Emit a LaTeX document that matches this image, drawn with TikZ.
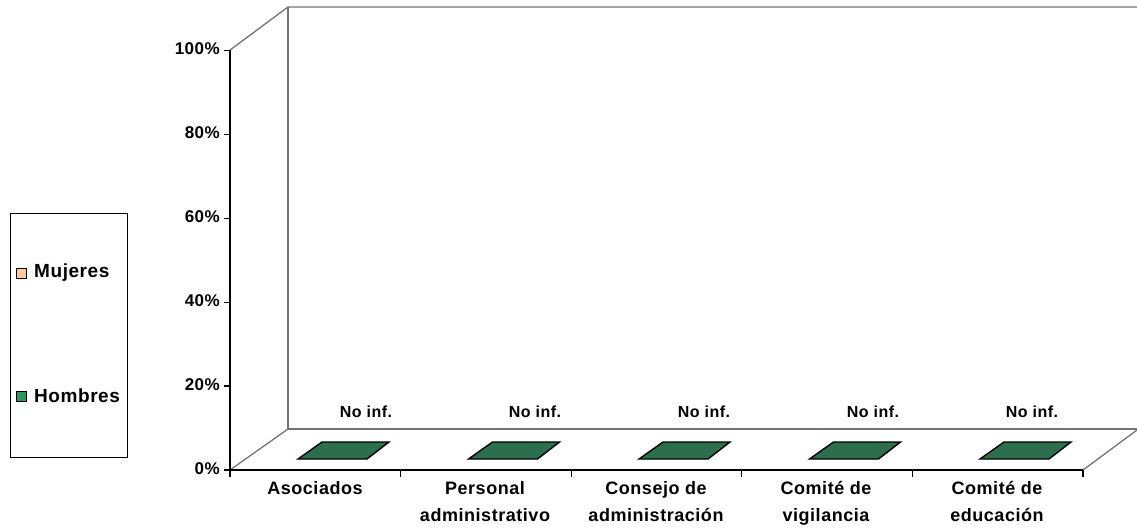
\documentclass[tikz,border=0pt]{standalone}
\usepackage{fontspec}
\setmainfont{Liberation Sans}[LetterSpace=3]
\begin{document}
\begin{tikzpicture}[x=1pt,y=-1pt,
  wall/.style={draw=gray!90!black,line width=1.3pt},
  axis/.style={draw=black,line width=1.3pt},
  lab/.style={font=\fontsize{17}{17}\selectfont\bfseries,inner sep=0pt},
  cat/.style={font=\fontsize{18}{27}\selectfont\bfseries,align=center,inner sep=0pt,anchor=north},
  bar/.style={draw=black,line width=1.4pt,fill=barg,line join=miter},
  legsq/.style={draw=black,line width=1pt,minimum size=10pt,inner sep=0pt}
]
\definecolor{barg}{RGB}{44,110,78}
\definecolor{legg}{RGB}{46,150,94}
\definecolor{legor}{RGB}{255,204,153}
\useasboundingbox (0,0) rectangle (1137,531);
% coordinates
\coordinate (o) at (230,470);
\coordinate (ot) at (230,50);
\coordinate (b) at (288,429);
\coordinate (bt) at (288,7);
\coordinate (rt) at (1137,7);
\coordinate (rb) at (1137,429);
\coordinate (fr) at (1083,470);
% back wall and floor
\draw[wall] (ot) -- (bt) -- (rt);
\draw[wall] (bt) -- (b) -- (rb);
\draw[wall] (o) -- (b);
\draw[wall] (fr) -- (1137,430);
% front axes
\draw[axis] (ot) -- (o) -- (fr);
\foreach \i in {0,...,5}{
  \pgfmathsetmacro{\yy}{470-83.9*\i}
  \draw[axis] (224,\yy) -- (230,\yy);
}
\foreach \i in {0,...,5}{
  \pgfmathsetmacro{\xx}{230+170.6*\i}
  \draw[axis] (\xx,470) -- (\xx,477);
}
% tick labels
\node[lab,anchor=east] (l0) at (220,469) {0\%};
\node[lab,anchor=east] (l20) at (220,385) {20\%};
\node[lab,anchor=east] (l40) at (220,301) {40\%};
\node[lab,anchor=east] (l60) at (220,217) {60\%};
\node[lab,anchor=east] (l80) at (220,133) {80\%};
\node[lab,anchor=east] (l100) at (220,49) {100\%};
% bars
\foreach \i in {0,...,4}{
  \pgfmathsetmacro{\xx}{170.5*\i}
  \draw[bar] (298+\xx,459) -- (367+\xx,459) -- (389+\xx,442) -- (322+\xx,442) -- cycle;
}
% No inf labels
\node[lab,font=\fontsize{16}{16}\selectfont\bfseries] (n1) at (366,412) {No inf.};
\node[lab,font=\fontsize{16}{16}\selectfont\bfseries] (n2) at (535,412) {No inf.};
\node[lab,font=\fontsize{16}{16}\selectfont\bfseries] (n3) at (704,412) {No inf.};
\node[lab,font=\fontsize{16}{16}\selectfont\bfseries] (n4) at (873,412) {No inf.};
\node[lab,font=\fontsize{16}{16}\selectfont\bfseries] (n5) at (1032,412) {No inf.};
% category labels
\node[cat] (c1) at (315,481) {Asociados};
\node[cat] (c2) at (485,481) {Personal\\administrativo};
\node[cat] (c3) at (656,481) {Consejo de\\administración};
\node[cat] (c4) at (826,481) {Comité de\\vigilancia};
\node[cat] (c5) at (997,481) {Comité de\\educación};
% legend
\draw[draw=black,line width=0.8pt] (10,213) rectangle (127,457);
\node[legsq,fill=legor] (m1) at (21.5,273) {};
\node[legsq,fill=legg] (m2) at (21.5,396) {};
\node[lab,anchor=west,font=\fontsize{19}{19}\selectfont\bfseries] (t1) at (34,273) {Mujeres};
\node[lab,anchor=west,font=\fontsize{19}{19}\selectfont\bfseries] (t2) at (34,396) {Hombres};
\end{tikzpicture}
\end{document}
